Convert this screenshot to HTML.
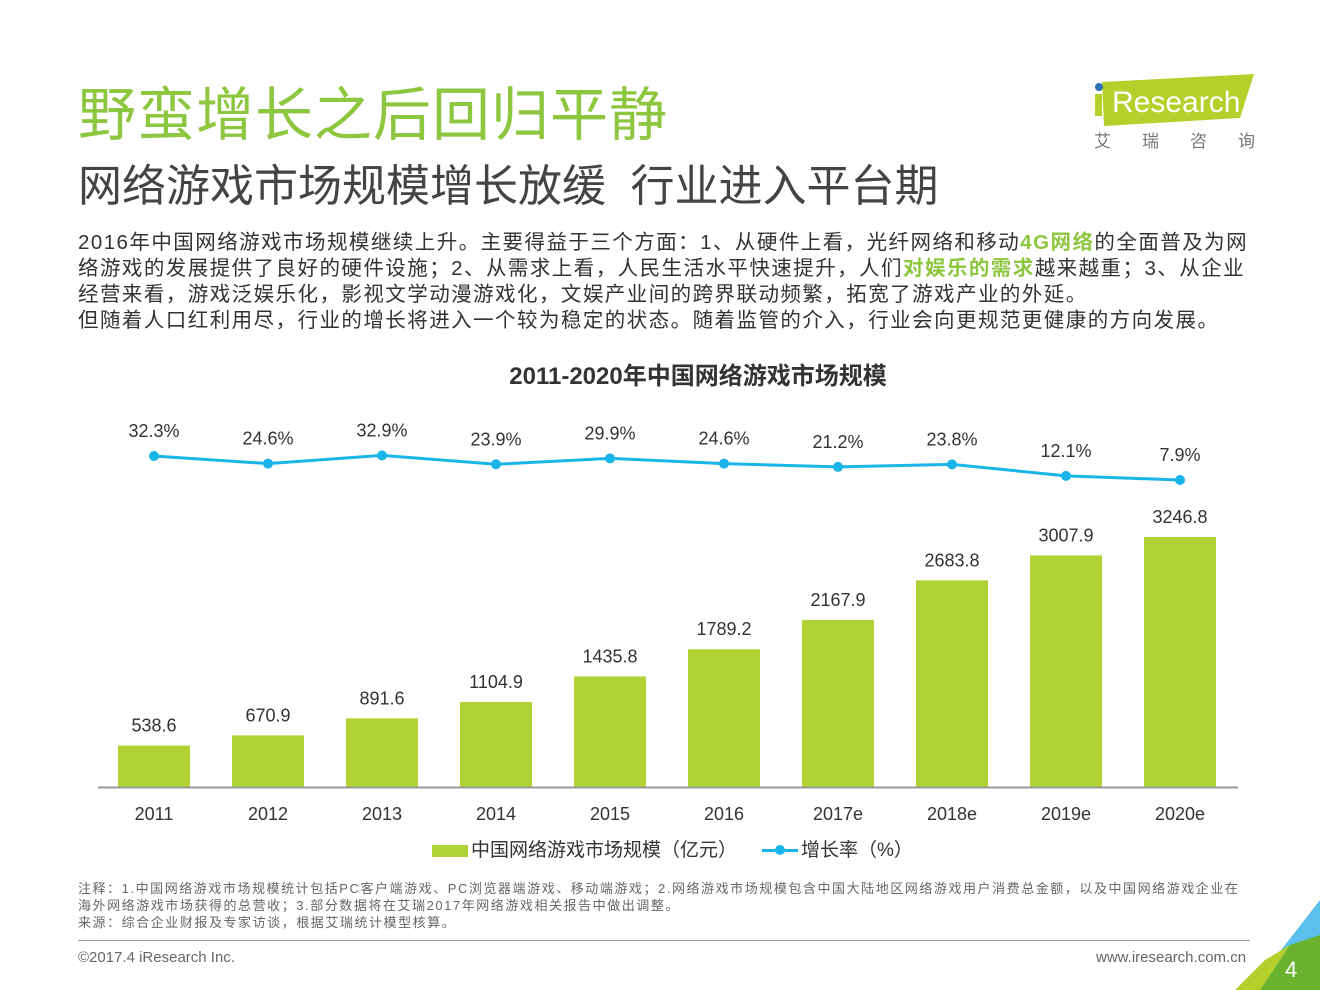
<!DOCTYPE html>
<html><head><meta charset="utf-8">
<style>
body{margin:0;width:1320px;height:990px;background:#fff;position:relative;overflow:hidden;font-family:"Liberation Sans","Noto Sans CJK SC",sans-serif;}
.a{position:absolute;white-space:nowrap;}
</style></head><body>
<div class="a" style="left:78px;top:68px;font-size:58px;color:#8dc63f;letter-spacing:1px;">野蛮增长之后回归平静</div>
<div class="a" style="left:78px;top:150px;font-size:44px;color:#444;">网络游戏市场规模增长放缓&nbsp; 行业进入平台期</div>
<div class="a" style="left:1092px;top:72px;width:165px;height:80px;">
<svg width="165" height="80"><polygon points="10,10 162,2 148,46 12,54" fill="#b5cf2b"/><circle cx="7" cy="15" r="4" fill="#2e6db4"/><rect x="3" y="22" width="7" height="22" fill="#b5cf2b"/>
<text x="20" y="40" font-size="30" fill="#fff" font-family="Liberation Sans">Research</text>
<text x="2" y="75" font-size="17" fill="#777" font-family="Noto Sans CJK SC">艾</text><text x="50" y="75" font-size="17" fill="#777" font-family="Noto Sans CJK SC">瑞</text><text x="98" y="75" font-size="17" fill="#777" font-family="Noto Sans CJK SC">咨</text><text x="146" y="75" font-size="17" fill="#777" font-family="Noto Sans CJK SC">询</text></svg></div>
<div class="a" style="left:78px;top:230px;font-size:20.5px;line-height:26px;color:#333;letter-spacing:1.45px;">2016年中国网络游戏市场规模继续上升。主要得益于三个方面：1、从硬件上看，光纤网络和移动<b style="color:#8dc63f">4G网络</b>的全面普及为网<br>络游戏的发展提供了良好的硬件设施；2、从需求上看，人民生活水平快速提升，人们<b style="color:#8dc63f">对娱乐的需求</b>越来越重；3、从企业<br>经营来看，游戏泛娱乐化，影视文学动漫游戏化，文娱产业间的跨界联动频繁，拓宽了游戏产业的外延。<br>但随着人口红利用尽，行业的增长将进入一个较为稳定的状态。随着监管的介入，行业会向更规范更健康的方向发展。</div>
<div class="a" style="left:0;width:1396px;text-align:center;top:356px;font-size:24px;font-weight:bold;color:#333;">2011-2020年中国网络游戏市场规模</div>
<svg id="chart" class="a" style="left:0;top:0" width="1320" height="990"></svg>
<div class="a" style="left:432px;top:835px;font-size:19px;color:#333;"><span style="display:inline-block;width:36px;height:12px;background:#b0d235;vertical-align:middle;margin-right:3px"></span>中国网络游戏市场规模（亿元）</div>
<div class="a" style="left:762px;top:835px;font-size:19px;color:#333;"><span style="display:inline-block;width:36px;height:3px;background:#1ab5e8;vertical-align:middle;position:relative;margin-right:3px"><span style="position:absolute;left:13px;top:-4px;width:10px;height:10px;border-radius:50%;background:#1ab5e8"></span></span>增长率（%）</div>
<div class="a" style="left:78px;top:880px;font-size:13px;line-height:17px;color:#666;letter-spacing:1.55px;">注释：1.中国网络游戏市场规模统计包括PC客户端游戏、PC浏览器端游戏、移动端游戏；2.网络游戏市场规模包含中国大陆地区网络游戏用户消费总金额，以及中国网络游戏企业在<br>海外网络游戏市场获得的总营收；3.部分数据将在艾瑞2017年网络游戏相关报告中做出调整。<br>来源：综合企业财报及专家访谈，根据艾瑞统计模型核算。</div>
<div class="a" style="left:78px;top:940px;width:1172px;height:1px;background:#999"></div>
<div class="a" style="left:78px;top:949px;font-size:15px;color:#666;">©2017.4 iResearch Inc.</div>
<div class="a" style="left:1096px;top:949px;font-size:15px;color:#666;">www.iresearch.com.cn</div>
<svg class="a" style="left:1190px;top:895px" width="130" height="95">
<polygon points="130,5 130,40 90,95 60,95" fill="#5bc0eb"/><polygon points="130,40 130,95 70,95 100,50" fill="#6ab22e"/><polygon points="100,50 70,95 45,95 75,65" fill="#b5cf2b"/>
<text x="95" y="82" font-size="22" fill="#fff" font-family="Liberation Sans">4</text></svg>
<script>
const years=["2011","2012","2013","2014","2015","2016","2017e","2018e","2019e","2020e"];
const sizes=[538.6,670.9,891.6,1104.9,1435.8,1789.2,2167.9,2683.8,3007.9,3246.8];
const rates=[32.3,24.6,32.9,23.9,29.9,24.6,21.2,23.8,12.1,7.9];
const NS="http://www.w3.org/2000/svg";
const svg=document.getElementById('chart');
const x=i=>154+i*114;
const yb=v=>787-v*0.077;
const yl=v=>456+(32.3-v)*0.984;
function mk(t,a){const e=document.createElementNS(NS,t);for(const k in a)e.setAttribute(k,a[k]);svg.appendChild(e);return e;}
function tx(s,xx,yy,n){const e=mk('text',{x:xx,y:yy,'text-anchor':'middle','font-size':18,fill:'#333','font-family':'Liberation Sans'});e.textContent=s;return e;}
sizes.forEach((v,i)=>{
const r=mk('rect',{x:x(i)-36,y:yb(v),width:72,height:787-yb(v),fill:'#b0d235'});


tx(v.toFixed(1),x(i),yb(v)-14,'bar-value');
tx(years[i],x(i),820,'x-tick-label');
});
const ax=mk('line',{x1:98,x2:1238,y1:787.5,y2:787.5,stroke:'#999','stroke-width':2});


const pl=mk('polyline',{points:rates.map((v,i)=>x(i)+','+yl(v)).join(' '),fill:'none',stroke:'#1ab5e8','stroke-width':3});


rates.forEach((v,i)=>{
const c=mk('circle',{cx:x(i),cy:yl(v),r:5,fill:'#1ab5e8'});


tx(v+'%',x(i),yl(v)-19,'growth-label');
});
</script>
</body></html>
